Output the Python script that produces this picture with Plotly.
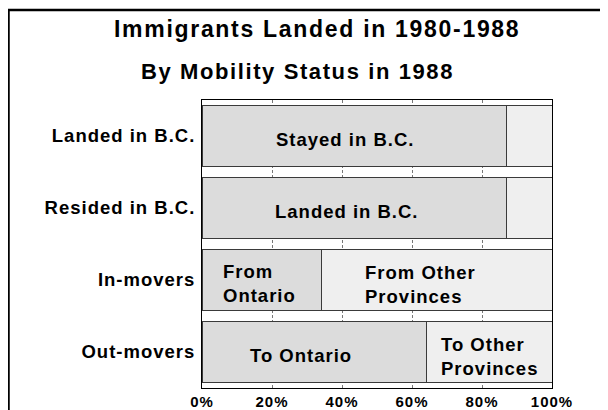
import plotly.graph_objects as go

# ---- data ----
categories = ["Landed in B.C.", "Resided in B.C.", "In-movers", "Out-movers"]
first_share = [87, 87, 34, 64]          # darker (left) segment, %
second_share = [13, 13, 66, 36]         # lighter (right) segment, %
first_labels = ["Stayed in B.C.", "Landed in B.C.", "From<br>Ontario", "To Ontario"]
second_labels = ["", "", "From Other<br>Provinces", "To Other<br>Provinces"]
x_ticks = [0, 20, 40, 60, 80, 100]
x_tick_labels = ["0%", "20%", "40%", "60%", "80%", "100%"]
title_text = "Immigrants Landed in 1980-1988"
subtitle_text = "By Mobility Status in 1988"

# ---- layout constants (page body has an 8px margin) ----
OFF = 8
W, H = 600, 402
L, R, T, B = 194, 56, 92, 22
PW, PH = W - L - R, H - T - B
FONT = "Liberation Sans, Arial, sans-serif"


def sp(text, px):
    return f'<span style="letter-spacing:{px}px">{text}</span>'


def px2x(px):
    return (px - OFF - L) / PW


def py2y(py):
    return (H - B - (py - OFF)) / PH


fig = go.Figure()
fig.add_trace(go.Bar(
    y=categories, x=first_share, orientation="h", width=0.845,
    marker=dict(color="#dcdcdc", line=dict(color="#3a3a3a", width=1)),
    hoverinfo="skip", showlegend=False))
fig.add_trace(go.Bar(
    y=categories, x=second_share, orientation="h", width=0.845,
    marker=dict(color="#efefef", line=dict(color="#3a3a3a", width=1)),
    hoverinfo="skip", showlegend=False))

# in-bar labels, anchored at segment centres (computed from data)
first_shift = [-9, -7, -2, -13]
second_shift = [0, 0, -16, 0]
yshift = [-3, -3, -3, -3]
annotations = []
for i, cat in enumerate(categories):
    c1 = first_share[i] / 2
    c2 = first_share[i] + second_share[i] / 2
    if first_labels[i]:
        annotations.append(dict(
            x=c1, y=cat, xref="x", yref="y", text=sp(first_labels[i], 1),
            showarrow=False, align="left", xanchor="center", yanchor="middle",
            xshift=first_shift[i], yshift=yshift[i],
            font=dict(family=FONT, size=18.5, color="#000", weight="bold")))
    if second_labels[i]:
        annotations.append(dict(
            x=c2, y=cat, xref="x", yref="y", text=sp(second_labels[i], 1),
            showarrow=False, align="left", xanchor="center", yanchor="middle",
            xshift=second_shift[i], yshift=yshift[i] - 1,
            font=dict(family=FONT, size=18.5, color="#000", weight="bold")))

annotations.append(dict(
    x=px2x(316.5), y=py2y(29), xref="paper", yref="paper",
    text=sp(title_text, 1.7), showarrow=False, xanchor="center", yanchor="middle",
    font=dict(family=FONT, size=23, color="#000", weight="bold")))
annotations.append(dict(
    x=px2x(297.7), y=py2y(71), xref="paper", yref="paper",
    text=sp(subtitle_text, 1.6), showarrow=False, xanchor="center", yanchor="middle",
    font=dict(family=FONT, size=22, color="#000", weight="bold")))

shapes = [
    dict(type="line", xref="paper", yref="paper", x0=px2x(8.5), x1=px2x(8.5),
         y0=py2y(H + OFF + 4), y1=py2y(9), line=dict(color="#000", width=2.5)),
    dict(type="line", xref="paper", yref="paper", x0=px2x(7.5), x1=px2x(W + OFF + 4),
         y0=py2y(10), y1=py2y(10), line=dict(color="#000", width=2.5)),
]

fig.update_layout(
    width=W, height=H, margin=dict(l=L, r=R, t=T, b=B, autoexpand=False),
    paper_bgcolor="white", plot_bgcolor="white",
    barmode="stack", bargap=0.155,
    annotations=annotations, shapes=shapes,
    font=dict(family=FONT, color="#000"),
)
fig.update_xaxes(
    range=[0, 100], tickvals=x_ticks, ticktext=[sp(t, 1) for t in x_tick_labels],
    showgrid=True, gridcolor="#777", gridwidth=1, griddash="3px,2px",
    showline=True, mirror=True, linecolor="#000", linewidth=1,
    ticks="", zeroline=False, fixedrange=True,
    tickfont=dict(family=FONT, size=15, color="#000", weight="bold"),
)
fig.update_yaxes(
    range=[3.5, -0.5], tickvals=categories, ticktext=[sp(c, 1) for c in categories],
    showgrid=False, showline=True, mirror=True, linecolor="#000", linewidth=1,
    ticks="", fixedrange=True, ticklabelstandoff=2,
    tickfont=dict(family=FONT, size=18.5, color="#000", weight="bold"),
)

fig.write_html("out.html", config={"displayModeBar": False})
